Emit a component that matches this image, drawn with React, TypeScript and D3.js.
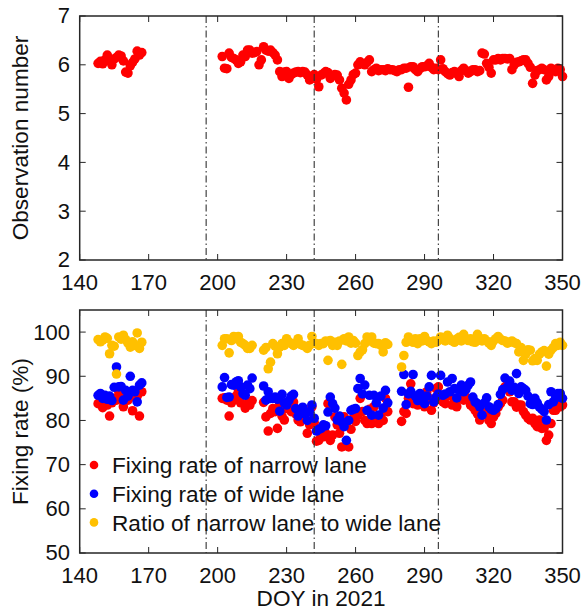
import React from "react";
import * as d3 from "d3";

// ---------- Data ----------
const seg1Start = 148;
const seg2Start = 202;

// Top panel: observation number
const obsSeg1: (number | null)[] = [6.03, 6.07, 6.02, 6.1, 6.2, 6.08, 6.0, 6.12, 6.15, 6.2, 6.18, 6.08, 5.85, 5.83, 5.98, 6.05, 6.12, 6.28, 6.2, 6.25];
const obsSeg2: (number | null)[] = [
  6.17, 5.93, 5.92, 6.24, 6.15, 6.13, 6.1, 6.03, 6.06, 6.2, 6.17, 6.3, 6.3, 6.24, 6.25, 6.27, 6.0, 6.1, 6.37, 6.3,
  6.28, 6.3, 6.25, 6.2, 6.1, 5.86, 5.76, 5.85, 5.86, 5.72, 5.8, 5.83, 5.85, 5.86, 5.84, 5.86, 5.85, 5.79, 5.69, 5.76,
  5.8, 5.7, 5.55, 5.79, 5.82, 5.86, 5.84, 5.72, 5.78, 5.8, 5.79, 5.69, 5.52, 5.42, 5.28, 5.6, 5.69, 5.8, 5.83, 6.0,
  6.06, 6.02, 6.0, 6.05, 6.1, 5.86, 5.9, 5.93, 5.88, 5.9, 5.9, 5.88, 5.92, 5.9, 5.9, 5.88, 5.86, 5.9, 5.9, 5.93,
  5.93, 5.54, 5.96, 5.96, 5.9, 5.86, 5.92, 5.96, 5.96, 5.98, 6.03, 5.95, 5.9, 5.93, 5.9, 6.1, 5.92, 5.86, 5.82, 5.79,
  5.84, 5.86, 5.82, 5.76, 5.88, 5.93, 5.88, 5.83, 5.86, 5.9, 5.9, 5.86, 5.88, 6.24, 6.22, 6.03, 5.95, 5.83, 6.1, 6.1,
  6.13, 6.1, 6.13, 6.13, 6.12, 6.13, 5.9, 6.0, 6.05, 6.06, 6.08, 6.1, 6.1, 6.03, 5.95, 5.62, 5.79, 5.88, 5.9, 5.93,
  5.9, 5.69, 5.76, 5.93, 5.9, 5.86, 5.93, 5.9, 5.76,
];

// Bottom panel: fixing rates (%)
const narrowSeg1: (number | null)[] = [83.8, 84.2, 82.9, 84.0, 83.5, 81.0, 84.0, 85.0, 84.6, 86.5, 85.0, 83.1, 85.5, 84.6, 86.0, 82.2, 85.2, 85.5, 81.0, 86.5];
const wideSeg1: (number | null)[] = [85.7, 86.1, 85.0, 85.7, 84.8, 85.5, 84.5, 87.5, 92.1, 87.6, 87.7, 84.6, 86.8, 85.5, 90.0, 86.8, 86.5, 84.2, 88.0, 88.5];
const ratioSeg1: (number | null)[] = [98.3, 97.8, 98.2, 98.9, 98.6, 95.1, 97.0, 96.8, 90.5, 98.9, 98.4, 99.3, 98.3, 97.5, 96.6, 97.8, 97.0, 99.8, 96.3, 97.7];

const narrowSeg2: (number | null)[] = [
  85.0, 85.1, 84.6, 81.0, 84.0, 85.0, 85.5, 86.5, 84.0, 85.9, 82.8, 83.8, 83.5, 84.5, null, null, null, null, 84.1, 80.8,
  77.6, 81.6, 82.7, 82.0, 78.2, 83.8, 81.0, 80.1, 82.7, 83.0, 82.0, 84.2, 81.5, 80.1, 79.7, 81.0, 80.5, 77.1, 79.0, 83.1,
  79.5, 75.3, 75.5, 76.5, 76.3, 77.1, 83.8, 75.5, 76.7, 80.8, 79.0, 77.1, 74.0, 80.8, 79.5, 74.0, 78.0, 80.5, 79.8, 81.2,
  85.0, 82.0, 80.0, 79.3, 82.5, 79.3, 83.1, 81.0, 79.3, 81.2, 80.0, 85.0, 82.0, null, null, null, null, null, 79.8, 82.0,
  81.6, 85.0, 88.3, 83.8, 84.5, 83.5, 85.0, 84.0, 83.1, 86.5, 85.0, 82.3, 84.0, 87.2, 87.6, 85.0, 84.2, 83.8, 85.5, 85.7,
  83.5, 84.5, 83.1, 85.0, 86.1, 84.6, 85.3, 84.6, 83.5, 83.1, 82.3, 81.5, 80.1, 81.6, 81.6, 82.0, 80.0, 79.3, 80.8, 81.6,
  83.0, 83.8, 84.6, 87.6, 88.0, 86.5, 84.2, 84.2, 83.0, 83.5, 83.5, 82.0, 81.2, 80.5, 80.1, 80.5, 79.3, 78.6, 80.1, 78.2,
  78.3, 75.5, 76.7, 79.3, 82.3, 82.3, 83.8, 83.1, 83.5,
];
const wideSeg2: (number | null)[] = [
  87.6, 89.7, 85.2, 85.3, 88.1, 88.0, 88.7, 89.0, 87.6, 86.1, 85.7, 88.0, 87.2, 89.6, null, null, null, null, 87.8, 84.6,
  86.5, 85.0, 85.0, 85.3, 84.8, 82.1, 85.9, 84.0, 83.5, 84.5, 85.5, 85.9, 82.7, 81.0, 82.0, 83.0, 81.5, 80.0, 82.0, 83.5,
  80.5, 77.6, 78.0, 78.2, 79.0, 78.8, 81.9, 85.3, 83.8, 82.8, 80.1, 81.0, 79.7, 78.6, 75.5, 80.0, 82.3, 82.5, 82.7, 87.2,
  89.5, 86.0, 88.0, 82.3, 85.7, 81.2, 85.7, 84.0, 81.2, 85.5, 82.8, 86.8, 84.0, null, null, null, null, null, 86.6, 90.4,
  83.6, 86.0, 86.6, 90.4, 85.5, 84.5, 86.1, 85.0, 83.8, 85.5, 87.6, 90.2, 84.2, 85.3, 86.0, 90.2, 85.7, 86.0, 88.7, 86.5,
  89.5, 87.2, 85.1, 87.0, 88.0, 86.5, 87.0, 88.0, 88.7, 85.3, 84.2, 83.8, 83.1, 81.2, 84.0, 85.1, 83.1, 82.5, 82.3, 82.7,
  83.6, 85.9, 87.0, 89.6, 87.6, 88.9, 86.8, 87.5, 90.6, 86.1, 87.6, 87.2, 86.8, 85.5, 83.8, 83.6, 85.0, 84.0, 83.0, 82.5,
  82.0, 80.1, 83.6, 86.5, 84.2, 85.1, 86.1, 86.1, 85.0,
];
const ratioSeg2: (number | null)[] = [
  97.0, 98.5, 98.5, 95.3, 98.1, 99.0, 98.5, 99.0, 97.7, 97.4, 97.0, 96.3, 96.3, 97.0, null, null, null, null, 95.9, 96.5,
  91.7, 93.2, 97.4, 96.8, 95.1, 96.6, 97.4, 97.0, 98.5, 97.8, 97.4, 97.0, 97.5, 98.5, 97.2, 97.0, 96.8, 96.3, 97.0, 99.0,
  97.5, 97.4, 97.0, 97.4, 97.4, 98.0, 93.6, 98.1, 97.0, 97.7, 97.0, 98.0, 92.7, 98.5, 98.0, 98.9, 97.5, 98.1, 97.5, 94.7,
  95.5, 96.0, 97.4, 98.9, 98.0, 98.9, 97.5, 97.4, 97.4, 97.0, 95.5, 97.6, 97.2, null, null, null, null, null, 92.1, 94.7,
  97.7, 98.9, 98.0, 97.7, 98.5, 97.4, 98.5, 98.0, 99.0, 98.1, 97.8, 97.4, 98.0, 97.7, 98.1, 98.9, 98.5, 98.0, 99.3, 98.6,
  98.0, 97.7, 98.4, 98.8, 98.0, 99.5, 98.5, 98.1, 98.5, 97.8, 97.7, 99.5, 98.6, 98.0, 98.5, 98.0, 97.5, 97.0, 98.0, 98.5,
  99.0, 98.4, 98.1, 98.0, 97.5, 97.7, 98.0, 97.6, 97.4, 95.5, 96.5, 93.6, 95.0, 96.0, 95.9, 93.5, 94.0, 93.6, 95.0, 95.5,
  95.8, 92.3, 95.0, 95.9, 96.5, 97.4, 97.0, 97.7, 97.0,
];

const xTicks = [140, 170, 200, 230, 260, 290, 320, 350];
const obsTicks = [2, 3, 4, 5, 6, 7];
const rateTicks = [50, 60, 70, 80, 90, 100];
const campaignBreaks = [195, 242, 296];

const legendLabels = [
  "Fixing rate of narrow lane",
  "Fixing rate of wide lane",
  "Ratio of narrow lane to wide lane",
];
const seriesColors = ["#ff0000", "#0000ff", "#ffc000"];

// ---------- Helpers ----------
type Pt = { d: number; v: number };
function toPoints(start1: number, s1: (number | null)[], start2: number, s2: (number | null)[]): Pt[] {
  const out: Pt[] = [];
  s1.forEach((v, i) => { if (v != null) out.push({ d: start1 + i, v }); });
  s2.forEach((v, i) => { if (v != null) out.push({ d: start2 + i, v }); });
  return out;
}

const W = 583;
const H = 612;
const L = 79.7;
const R = 562.5;
const topY0 = 16, topY1 = 260;
const botY0 = 310, botY1 = 553;
const FONT = "Arial, 'Liberation Sans', Helvetica, sans-serif";
const AX = "#262626";
const TICK = 6;

export default function App() {
  const x = d3.scaleLinear().domain([140, 350]).range([L, R]);
  const yTop = d3.scaleLinear().domain([2, 7]).range([topY1, topY0]);
  const yBot = d3.scaleLinear().domain([50, 105]).range([botY1, botY0]);

  const obsPts = toPoints(seg1Start, obsSeg1, seg2Start, obsSeg2);
  const series = [
    toPoints(seg1Start, narrowSeg1, seg2Start, narrowSeg2),
    toPoints(seg1Start, wideSeg1, seg2Start, wideSeg2),
    toPoints(seg1Start, ratioSeg1, seg2Start, ratioSeg2),
  ];

  const frame = (y0: number, y1: number, yScale: d3.ScaleLinear<number, number>, yt: number[], key: string) => (
    <g key={key}>
      {campaignBreaks.map((b) => (
        <line key={b} x1={x(b)} x2={x(b)} y1={y0} y2={y1} stroke="#333" strokeWidth={1.1} strokeDasharray="7,3,1.5,3" />
      ))}
      {xTicks.map((t) => (
        <g key={t}>
          <line x1={x(t)} x2={x(t)} y1={y1} y2={y1 - TICK} stroke={AX} strokeWidth={1} />
          <line x1={x(t)} x2={x(t)} y1={y0} y2={y0 + TICK} stroke={AX} strokeWidth={1} />
          <text x={x(t)} y={y1 + 30} textAnchor="middle" fontSize={22} fontFamily={FONT} fill="#111">{t}</text>
        </g>
      ))}
      {yt.map((t) => (
        <g key={t}>
          <line x1={L} x2={L + TICK} y1={yScale(t)} y2={yScale(t)} stroke={AX} strokeWidth={1} />
          <line x1={R} x2={R - TICK} y1={yScale(t)} y2={yScale(t)} stroke={AX} strokeWidth={1} />
          <text x={70} y={yScale(t)} dy="0.34em" textAnchor="end" fontSize={22} fontFamily={FONT} fill="#111">{t}</text>
        </g>
      ))}
      <rect x={L} y={y0} width={R - L} height={y1 - y0} fill="none" stroke={AX} strokeWidth={1.5} />
    </g>
  );

  return (
    <svg width={W} height={H} style={{ position: "absolute", left: 0, top: 0, background: "#fff" }}>
      <rect x={0} y={0} width={W} height={H} fill="#fff" />
      {/* top panel data */}
      {obsPts.map((p, i) => (
        <circle key={"o" + i} cx={x(p.d)} cy={yTop(p.v)} r={4.8} fill="#ff0000" />
      ))}
      {/* bottom panel data */}
      {series.map((s, k) => (
        <g key={"s" + k}>
          {s.map((p, i) => (
            <circle key={i} cx={x(p.d)} cy={yBot(p.v)} r={4.8} fill={seriesColors[k]} />
          ))}
        </g>
      ))}
      {frame(topY0, topY1, yTop, obsTicks, "top")}
      {frame(botY0, botY1, yBot, rateTicks, "bot")}

      {/* legend */}
      {legendLabels.map((lab, i) => (
        <g key={lab}>
          <circle cx={94} cy={465 + i * 28.7} r={4.3} fill={seriesColors[i]} />
          <text x={112} y={465 + i * 28.7} dy="0.36em" fontSize={22.6} fontFamily={FONT} fill="#111">{lab}</text>
        </g>
      ))}

      {/* axis titles */}
      <text transform={`translate(28,${(topY0 + topY1) / 2}) rotate(-90)`} textAnchor="middle" fontSize={22.6} fontFamily={FONT} fill="#111">
        Observation number
      </text>
      <text transform={`translate(28,${(botY0 + botY1) / 2}) rotate(-90)`} textAnchor="middle" fontSize={22.6} fontFamily={FONT} fill="#111">
        Fixing rate (%)
      </text>
      <text x={(L + R) / 2} y={606} textAnchor="middle" fontSize={22.6} fontFamily={FONT} fill="#111">
        DOY in 2021
      </text>
    </svg>
  );
}
